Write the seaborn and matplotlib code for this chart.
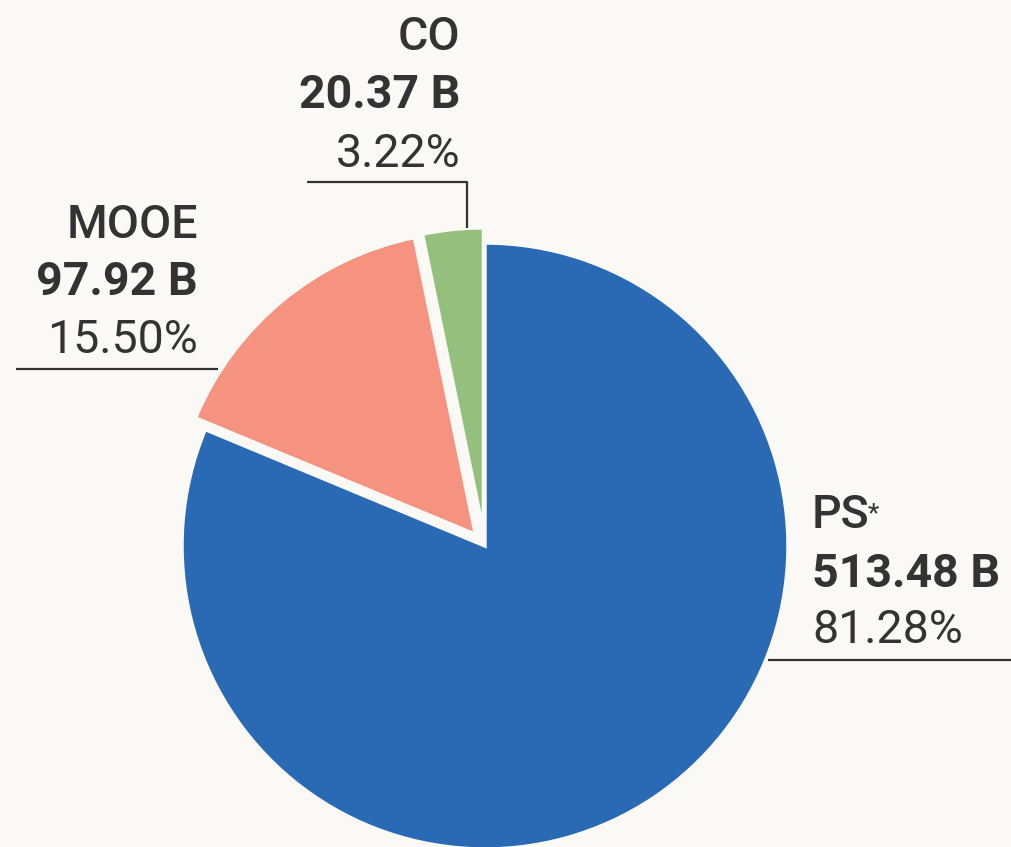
import matplotlib
matplotlib.use("Agg")
import matplotlib.pyplot as plt
import seaborn as sns

# data
categories = ["PS", "MOOE", "CO"]
amounts = [513.48, 97.92, 20.37]          # billions
amount_labels = ["513.48 B", "97.92 B", "20.37 B"]
share_labels = ["81.28%", "15.50%", "3.22%"]

colors = ["#2A69B3", "#F59380", "#94BF7D"]
bg = "#FAF9F6"
ink = "#333333"

sns.set_style("white")
plt.rcParams["font.family"] = ["Roboto", "DejaVu Sans"]

fig = plt.figure(figsize=(10.11, 8.47), dpi=100, facecolor=bg)
ax = fig.add_axes([0, 0, 1, 1])
ax.set_facecolor(bg)

# pie centre at pixel (485, 546), radius 303 px
cx, cy, r = 485, 546, 303
W, H = 1011, 847

ax.pie(amounts, colors=colors, startangle=90, counterclock=False,
       explode=[0, 0.05, 0.05], radius=1, center=(0, 0),
       wedgeprops=dict(edgecolor=bg, linewidth=2.5))
ax.set_aspect("auto")
ax.set_xlim(-cx / r, (W - cx) / r)
ax.set_ylim(-(H - cy) / r, cy / r)
ax.axis("off")


def px(x, y):
    return (x - cx) / r, (cy - y) / r


# label layout: (text x, alignment, baselines, leader line points)
layout = {
    "PS": (812, "left", [528, 587, 643], [(768, 660), (1011, 660)]),
    "MOOE": (198, "right", [238, 295, 353], [(16, 369), (218, 369)]),
    "CO": (460, "right", [50, 108, 167], [(307, 182), (467, 182), (467, 228)]),
}

fs = 33.5
for name, amt, share in zip(categories, amount_labels, share_labels):
    tx, ha, bases, line = layout[name]
    ax.text(*px(tx, bases[0]), name, ha=ha, va="baseline",
            fontsize=fs, color=ink, fontweight="medium")
    ax.text(*px(tx, bases[1]), amt, ha=ha, va="baseline",
            fontsize=fs, color=ink, fontweight="bold")
    ax.text(*px(tx, bases[2]), share, ha=ha, va="baseline",
            fontsize=fs, color=ink, fontweight="normal")
    xs = [px(x, y)[0] for x, y in line]
    ys = [px(x, y)[1] for x, y in line]
    ax.plot(xs, ys, color=ink, linewidth=1.6, solid_capstyle="butt")

# asterisk after PS
ax.text(*px(868, 521), "*", ha="left", va="baseline", fontsize=19, color=ink)

fig.savefig("out.png", dpi=100, facecolor=bg)
